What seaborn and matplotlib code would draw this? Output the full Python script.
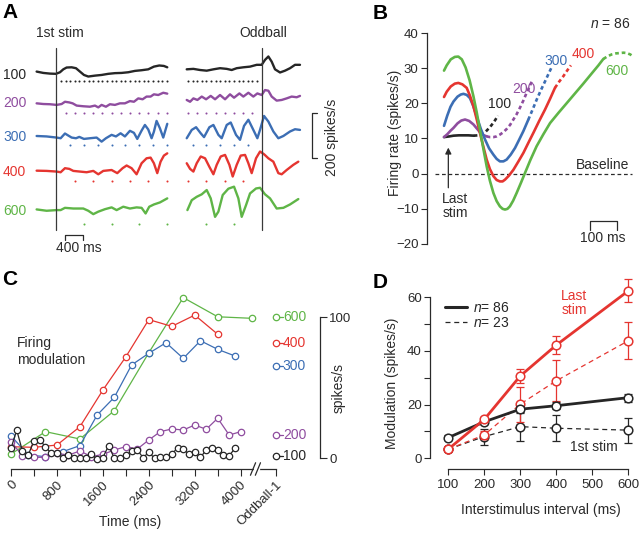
import numpy as np
import matplotlib
matplotlib.use("Agg")
import matplotlib.pyplot as plt
from matplotlib.lines import Line2D
import seaborn as sns

W, H = 640, 541
sns.set_style("ticks")
plt.rcParams['font.family'] = ['Liberation Sans', 'DejaVu Sans']
plt.rcParams['mathtext.fontset'] = 'custom'
plt.rcParams['mathtext.it'] = 'Liberation Sans:italic'
plt.rcParams['mathtext.rm'] = 'Liberation Sans'

DARK = '#2a2a2a'
COL = {100: '#262626', 200: '#8f4d9f', 300: '#3c6eb4', 400: '#e53530', 600: '#5fb547'}

# ---------------- Panel A data (ms, spikes/s relative to baseline) -------------
A_left_t = {
    100: [-427, -282, -137, -7, 80, 152, 224, 333, 427, 513, 600, 694, 839, 983, 1128, 1272, 1417, 1562, 1706, 1851, 1995, 2118, 2234, 2335, 2408],
    200: [-427, -282, -137, 7, 116, 188, 282, 354, 441, 586, 730, 839, 911, 983, 1077, 1164, 1272, 1381, 1489, 1598, 1685, 1779, 1873, 1959, 2046, 2118, 2212, 2321, 2408],
    300: [-427, -210, 7, 94, 188, 260, 333, 427, 499, 600, 730, 875, 983, 1077, 1200, 1294, 1395, 1489, 1598, 1685, 1757, 1851, 1923, 1995, 2068, 2118, 2176, 2249, 2321, 2408],
    400: [-427, -210, 7, 94, 188, 282, 369, 513, 658, 803, 911, 1019, 1200, 1323, 1439, 1526, 1634, 1742, 1851, 1959, 2046, 2118, 2191, 2263, 2335, 2408],
    600: [-427, -210, 7, 94, 188, 369, 586, 694, 803, 911, 1056, 1200, 1309, 1453, 1598, 1742, 1851, 1938, 2017, 2118, 2249, 2408],
}
A_left_v = {
    100: [3, -3, -6, -7, 0, 13, 21, 22, 18, 3, -12, -19, -15, -12, -7, -4, -3, 0, 6, 9, 13, 25, 30, 28, 22],
    200: [3, 0, -1, -4, 0, 10, 7, 3, -7, -10, -12, -7, -15, -4, -12, -1, -4, 3, 3, 13, 10, 25, 21, 33, 33, 43, 40, 50, 46],
    300: [1, -1, -6, -9, 12, 3, -6, -9, -3, -12, -9, -6, -24, -9, 6, -1, 13, -1, 24, 15, -12, 25, 50, 30, -9, 20, 68, 35, -6, 55],
    400: [1, 0, -3, -6, 12, 9, 0, -3, -6, 0, -15, 0, 4, -10, 12, 24, 12, -15, 34, 56, 59, 34, -10, 41, 68, 78],
    600: [3, -3, 0, 0, 10, 7, 7, -3, -18, -7, 4, 12, 0, 15, 7, 12, 10, -15, 15, 25, 34, 52],
}
A_right_t = {
    100: [-1627, -1482, -1338, -1193, -1048, -904, -759, -651, -542, -398, -253, -108, 0, 72, 145, 217, 289, 398, 506, 615, 723, 831],
    200: [-1627, -1554, -1482, -1395, -1301, -1207, -1106, -1012, -904, -795, -687, -600, -484, -398, -289, -181, -94, 0, 72, 145, 217, 325, 434, 542, 651, 759, 831],
    300: [-1627, -1518, -1424, -1323, -1251, -1135, -1048, -940, -868, -759, -672, -557, -470, -383, -289, -181, -94, -36, 51, 145, 253, 361, 470, 615, 723, 831],
    400: [-1627, -1554, -1482, -1410, -1323, -1229, -1135, -1048, -976, -889, -795, -701, -629, -542, -455, -361, -289, -217, -123, -36, 51, 145, 253, 361, 434, 542, 687, 795],
    600: [-1612, -1518, -1410, -1301, -1193, -1106, -1012, -940, -846, -723, -600, -506, -434, -340, -253, -123, -36, 72, 181, 325, 470, 615, 795],
}
A_right_v = {
    100: [13, 15, 10, 7, 13, 18, 15, 10, 18, 22, 25, 33, 33, 55, 70, 47, 13, -1, 7, 18, 33, 33],
    200: [18, 10, 25, 18, 33, 21, 36, 21, 40, 21, 43, 28, 47, 33, 50, 33, 47, 40, 62, 59, 33, 15, 18, 25, 33, 30, 36],
    300: [-9, 28, 40, 13, -4, 40, 50, 6, -9, 50, 61, 6, -16, 46, 73, 28, -9, 28, 90, 65, 21, -9, 1, 21, 31, 28],
    400: [34, 9, -3, 34, 64, 56, 18, -15, 27, 64, 71, 27, -25, 27, 68, 71, 34, -10, 56, 86, 74, 56, 41, -10, -15, 4, 27, 41],
    600: [0, 44, 59, 70, 89, 52, -30, -7, 67, 95, 104, 52, -30, 22, 74, 96, 99, 70, 52, 7, 10, 25, 49],
}
A_stim_left = {
    100: [100, 200, 300, 400, 500, 600, 700, 800, 900, 1000, 1100, 1200, 1300, 1400, 1500, 1600, 1700, 1800, 1900, 2000, 2100, 2200, 2300, 2400],
    200: [200, 400, 600, 800, 1000, 1200, 1400, 1600, 1800, 2000, 2200, 2400],
    300: [300, 600, 900, 1200, 1500, 1800, 2100, 2400],
    400: [400, 800, 1200, 1600, 2000, 2400],
    600: [600, 1200, 1800, 2400],
}
A_stim_right = {
    100: [-1600, -1500, -1400, -1300, -1200, -1100, -1000, -900, -800, -700, -600, -500, -400, -300, -200, -100],
    200: [-1600, -1400, -1200, -1000, -800, -600, -400, -200],
    300: [-1500, -1200, -900, -600, -300],
    400: [-1600, -1200, -800, -400],
    600: [-1200, -600],
}

# ---------------- Panel B data -------------
B_t = {
    100: [0, 20, 35, 55, 72, 90, 110, 125, 140, 155, 170, 185, 200],
    200: [0, 12, 24, 35, 50, 64, 78, 93, 109, 121, 133, 145, 158, 170, 183, 195, 207, 220, 232, 245, 257, 269, 281, 294, 306, 316, 325],
    300: [0, 12, 24, 35, 50, 62, 72, 84, 96, 108, 121, 136, 152, 167, 183, 195, 207, 220, 232, 247, 263, 278, 294, 312, 328, 343, 358, 374, 386, 397],
    400: [0, 10, 25, 40, 53, 68, 84, 96, 109, 121, 133, 146, 158, 170, 183, 195, 207, 217, 226, 240, 257, 275, 294, 312, 331, 352, 374, 393, 411, 426, 442, 456, 470],
    600: [0, 10, 25, 40, 53, 66, 80, 95, 109, 121, 133, 146, 158, 170, 183, 195, 207, 217, 226, 235, 244, 256, 269, 285, 300, 320, 343, 368, 393, 424, 454, 485, 516, 545, 572, 590, 606, 621, 637, 652, 665, 677, 690, 701],
}
B_v = {
    100: [10.4, 10.6, 10.8, 10.9, 10.9, 10.9, 10.8, 10.9, 11.3, 12.0, 13.2, 14.7, 16.5],
    200: [10.4, 11.2, 12.2, 13.0, 14.3, 15.1, 15.4, 15.0, 14.0, 12.9, 11.8, 11.0, 10.6, 10.4, 10.4, 10.6, 11.1, 11.8, 12.7, 13.9, 15.4, 16.9, 18.7, 20.8, 23.0, 24.6, 26.2],
    300: [13.6, 16.5, 19.0, 20.5, 21.9, 22.5, 22.7, 22.4, 21.5, 19.3, 16.3, 12.8, 9.7, 7.2, 5.4, 4.2, 3.5, 3.5, 4.0, 5.4, 7.3, 9.6, 12.1, 15.3, 18.2, 21.0, 23.6, 26.2, 28.2, 30.0],
    400: [21.8, 23.3, 24.8, 25.6, 25.8, 25.4, 24.4, 22.2, 19.2, 15.5, 11.6, 7.6, 4.0, 1.3, -0.7, -1.8, -2.2, -2.2, -1.7, -0.6, 1.1, 3.4, 5.9, 8.7, 11.6, 14.9, 18.2, 21.3, 24.4, 26.1, 27.7, 29.3, 30.8],
    600: [29.3, 30.8, 32.5, 33.2, 33.3, 32.5, 30.2, 26.5, 22.0, 17.5, 12.5, 7.0, 2.1, -2.0, -5.5, -7.8, -9.3, -10.0, -10.2, -10.0, -9.3, -7.7, -5.5, -2.6, 0.2, 3.9, 7.8, 11.2, 14.4, 17.3, 20.0, 22.8, 25.6, 28.3, 30.8, 32.6, 33.4, 33.9, 34.2, 34.3, 34.4, 34.3, 33.9, 33.3],
}
B_solid_end = {100: 110, 200: 158, 300: 312, 400: 411, 600: 590}

# ---------------- Panel C data -------------
C_t = {
    100: [0, 100, 200, 300, 400, 500, 600, 700, 800, 900, 1000, 1100, 1200, 1300, 1400, 1500, 1600, 1700, 1800, 1900,
          2000, 2100, 2200, 2300, 2400, 2500, 2600, 2700, 2800, 2900, 3000, 3100, 3200, 3300, 3400, 3500, 3600, 3700, 3800, 3900],
    200: [0, 200, 400, 600, 800, 1000, 1200, 1400, 1600, 1800, 2000, 2200, 2400, 2600, 2800, 3000, 3200, 3400, 3600, 3800, 4000],
    300: [0, 300, 600, 900, 1200, 1500, 1800, 2100, 2400, 2700, 3000, 3300, 3600, 3900],
    400: [0, 400, 800, 1200, 1600, 2000, 2400, 2800, 3200, 3600],
    600: [0, 600, 1200, 1800, 2400, 3000, 3600, 4200],
}
C_v = {
    100: [7, 20, 5, 2.3, 12.5, 13, 8.2, 3.5, 4, 0, 2.3, 0, 0, 0, 2.8, -0.5, 0.5, 9, 0, 0,
          2, 5.2, 5.9, 0.5, 4.2, 0, 1.2, 0.7, 2.8, 7.5, 6.3, 3, 4.7, 0.7, 5.9, 7, 5.9, 2.3, 1.9, 7],
    200: [11.8, 1.9, 0.7, 0.7, 3.5, 2.3, 5.2, 1.2, 2.8, 5.9, 8.3, 6.6, 13, 18.9, 20.8, 20.1, 23.6, 20.6, 28.4, 16.5, 18.9],
    300: [16, 2.3, 1.2, 4.7, 9, 30.7, 43.3, 66.2, 74.5, 82, 70.9, 83.4, 77.3, 72.6],
    400: [8.2, 7.8, 9.4, 22.4, 48.4, 72, 98.4, 93.6, 101.6, 88],
    600: [3, 18.9, 13.7, 33.8, 74.9, 114, 100.4, 99.3],
}
C_oddball1 = {600: 100.4, 400: 81.6, 300: 65.5, 200: 16.5, 100: 1.9}
C_xticks = [0, 400, 800, 1200, 1600, 2000, 2400, 2800, 3200, 3600, 4000]
C_xlabels = ['0', '', '800', '', '1600', '', '2400', '', '3200', '', '4000']
C_ODD1 = 4615

# ---------------- Panel D data -------------
D_isi = [100, 200, 300, 400, 600]
D_first86 = [7.7, 13.6, 18.3, 19.6, 22.6]
D_first86_err = [0.8, 1.0, 1.3, 1.2, 1.5]
D_last86 = [3.4, 14.5, 30.7, 42.2, 62.4]
D_last86_err = [0.7, 1.0, 2.6, 3.4, 4.3]
D_first23 = [3.4, 8.1, 11.8, 11.2, 10.5]
D_first23_err = [0.8, 3.0, 5.5, 4.8, 4.7]
D_last23 = [3.4, 8.7, 20.2, 28.9, 43.8]
D_last23_err = [0.8, 1.5, 6.5, 7.7, 6.9]

# =====================================================================
fig = plt.figure(figsize=(6.4, 5.41), dpi=100)


def box(x0, y0, x1, y1):
    return [x0 / W, 1 - y1 / H, (x1 - x0) / W, (y1 - y0) / H]


def T(px, py, s, **kw):
    kw.setdefault('va', 'center')
    kw.setdefault('ha', 'left')
    kw.setdefault('fontsize', 10)
    kw.setdefault('color', DARK)
    fig.text(px / W, 1 - py / H, s, **kw)


# ---------------- Panel A -------------
MSPX, RPX = 21.7, 4.44
axA = fig.add_axes(box(0, 0, 345, 270))
axA.set_xlim(-56.3 * MSPX, (345 - 56.3) * MSPX)
axA.set_ylim(0, 270 * RPX)
axA.axis('off')
ODD = 4457
row_base = {100: 878, 200: 737, 300: 594, 400: 440, 600: 266}
dot_y = {100: 839, 200: 696, 300: 555, 400: 395, 600: 204}
label_y = {100: 75, 200: 103, 300: 137, 400: 172, 600: 211}
for isi in [100, 200, 300, 400, 600]:
    c = COL[isi]
    sns.lineplot(x=A_left_t[isi], y=np.array(A_left_v[isi]) + row_base[isi], ax=axA,
                 color=c, lw=1.7, sort=False, estimator=None)
    sns.lineplot(x=np.array(A_right_t[isi]) + ODD, y=np.array(A_right_v[isi]) + row_base[isi], ax=axA,
                 color=c, lw=1.7, sort=False, estimator=None)
    dl = A_stim_left[isi]
    dr = np.array(A_stim_right[isi]) + ODD
    axA.scatter(dl, [dot_y[isi]] * len(dl), s=2.2, color=c, lw=0)
    axA.scatter(dr, [dot_y[isi]] * len(dr), s=2.2, color=c, lw=0)
    T(3, label_y[isi], str(isi), color=c)
axA.plot([0, 0], [178, 986], color='#3a3a3a', lw=0.9)
axA.plot([ODD, ODD], [178, 986], color='#3a3a3a', lw=0.9)
axA.plot([189, 189, 589, 589], [133, 155, 155, 133], color=DARK, lw=0.9)
axA.plot([5647, 5549, 5549, 5647], [697, 697, 497, 497], color=DARK, lw=0.9)
T(60, 33, '1st stim', ha='center')
T(263, 33, 'Oddball', ha='center')
T(79, 248, '400 ms', ha='center')
T(332, 137, '200 spikes/s', ha='center', rotation=90)

# ---------------- Panel B -------------
axB = fig.add_axes(box(427, 33, 640, 244))
axB.set_xlim(-63, 726)
axB.set_ylim(-20, 40)
sns.despine(ax=axB, bottom=True)
axB.set_xticks([])
axB.set_yticks([-20, -10, 0, 10, 20, 30, 40])
axB.tick_params(axis='y', direction='out', length=4, width=0.8, labelsize=9.5, pad=2, colors=DARK)
axB.spines['left'].set_linewidth(0.9)
axB.spines['left'].set_color(DARK)
axB.patch.set_alpha(0)
axB.hlines(0, -33, 696, colors=DARK, linestyles=(0, (3, 2.2)), lw=0.9)
for isi in [100, 200, 300, 400, 600]:
    t = np.array(B_t[isi]); v = np.array(B_v[isi])
    se = B_solid_end[isi]
    m1 = t <= se; m2 = t >= se
    sns.lineplot(x=t[m1], y=v[m1], ax=axB, color=COL[isi], lw=1.9, sort=False, estimator=None)
    sns.lineplot(x=t[m2], y=v[m2], ax=axB, color=COL[isi], lw=1.9, sort=False, estimator=None,
                 linestyle=(0, (1.4, 1.1)))
axB.plot([541, 541, 641, 641], [-15.9, -13.6, -13.6, -15.9], color=DARK, lw=0.9, clip_on=False)
axB.annotate('', xy=(16, 8.2), xytext=(16, -4.8),
             arrowprops=dict(arrowstyle='-|>', color=DARK, lw=0.9, mutation_scale=9))
T(603, 238, '100 ms', ha='center')
T(603, 165, 'Baseline', ha='center')
T(455, 206, 'Last\nstim', ha='center', linespacing=1.0)
T(610, 24, '$n$ = 86', ha='center')
T(500, 104, '100', ha='center', color=COL[100])
T(524, 89, '200', ha='center', color=COL[200])
T(556, 61, '300', ha='center', color=COL[300])
T(583, 54, '400', ha='center', color=COL[400])
T(617, 71, '600', ha='center', color=COL[600])
T(395, 133, 'Firing rate (spikes/s)', ha='center', rotation=90)

# ---------------- Panel C -------------
axC = fig.add_axes(box(5, 290, 320, 469))
axC.set_xlim(-104.5, 5381.4)
axC.set_ylim(-7.59, 119.4)
axC.patch.set_alpha(0)
for s in ['top', 'left']:
    axC.spines[s].set_visible(False)
axC.spines['bottom'].set_bounds(0, C_ODD1)
axC.spines['right'].set_bounds(0, 100)
for s in ['bottom', 'right']:
    axC.spines[s].set_linewidth(0.9)
    axC.spines[s].set_color(DARK)
axC.yaxis.tick_right()
axC.set_yticks([0, 100])
axC.set_xticks(C_xticks + [C_ODD1])
axC.set_xticklabels(C_xlabels + ['Oddball-1'], rotation=45, ha='right', rotation_mode='anchor')
axC.tick_params(direction='out', length=5, width=0.8, labelsize=9.5, colors=DARK)
axC.tick_params(axis='x', pad=2)
axC.tick_params(axis='y', pad=1.5)
for isi in [600, 400, 300, 200, 100]:
    c = COL[isi]
    sns.lineplot(x=C_t[isi], y=C_v[isi], ax=axC, color=c, lw=0.9, sort=False, estimator=None,
                 marker='o', markersize=4.6, markerfacecolor='white', markeredgecolor=c,
                 markeredgewidth=0.9, clip_on=False)
    ov = C_oddball1[isi]
    axC.plot([C_ODD1, C_ODD1 + 115], [ov, ov], color=c, lw=0.9, marker='o', markevery=[0],
             markersize=4.6, markerfacecolor='white', markeredgecolor=c, markeredgewidth=0.9,
             clip_on=False)
    axC.text(C_ODD1 + 120, ov, str(isi), color=c, fontsize=10, va='center', ha='left')
# axis break
xt = axC.get_xaxis_transform()
axC.plot([4245, 4305], [0, 0], transform=xt, color='white', lw=2.5, clip_on=False, zorder=5)
for xb in [4215, 4300]:
    axC.plot([xb - 45, xb + 45], [-0.035, 0.035], transform=xt, color=DARK, lw=0.9, clip_on=False, zorder=6)
T(17, 336, 'Firing\nmodulation', va='top', linespacing=1.25)
T(130, 522, 'Time (ms)', ha='center')
T(339, 388, 'spikes/s', ha='center', rotation=90)

# ---------------- Panel D -------------
axD = fig.add_axes(box(430, 278, 640, 469))
axD.set_xlim(49.2, 632.5)
axD.set_ylim(-3.99, 67.2)
axD.patch.set_alpha(0)
sns.despine(ax=axD)
axD.spines['left'].set_bounds(0, 60)
axD.spines['bottom'].set_bounds(100, 600)
for s in ['bottom', 'left']:
    axD.spines[s].set_linewidth(0.9)
    axD.spines[s].set_color(DARK)
axD.set_xticks([100, 200, 300, 400, 500, 600])
axD.set_yticks([0, 20, 40, 60])
axD.set_yticks([10, 30, 50], minor=True)
axD.tick_params(which='both', direction='out', length=4, width=0.8, labelsize=9.5, colors=DARK)
axD.tick_params(axis='x', pad=3)
axD.tick_params(axis='y', pad=2)

series = [
    (D_first23, D_first23_err, COL[100], (0, (4, 3)), 0.9),
    (D_last23, D_last23_err, COL[400], (0, (4, 3)), 0.9),
    (D_first86, D_first86_err, COL[100], '-', 2.0),
    (D_last86, D_last86_err, COL[400], '-', 2.0),
]
for vals, err, c, ls, lw in series:
    axD.errorbar(D_isi, vals, yerr=err, fmt='none', ecolor=c, elinewidth=0.9, capsize=2.6,
                 capthick=0.9, clip_on=False)
    sns.lineplot(x=D_isi, y=vals, ax=axD, color=c, lw=lw, linestyle=ls, sort=False, estimator=None,
                 marker='o', markersize=6.2, markerfacecolor='white', markeredgecolor=c,
                 markeredgewidth=1.1, clip_on=False)
handles = [Line2D([], [], color=COL[100], lw=2.2), Line2D([], [], color=COL[100], lw=0.9, ls=(0, (4, 3)))]
axD.legend(handles, ['$n$= 86', '$n$= 23'], loc='upper left', bbox_to_anchor=(445 / W, 1 - 301 / H),
           bbox_transform=fig.transFigure, frameon=False, fontsize=10, handlelength=1.55,
           handletextpad=0.45, labelspacing=0.05, borderpad=0, borderaxespad=0)
T(574, 303, 'Last\nstim', ha='center', color=COL[400], linespacing=1.0)
T(594, 447, '1st stim', ha='center')
T(392, 383, 'Modulation (spikes/s)', ha='center', rotation=90)
T(541, 510, 'Interstimulus interval (ms)', ha='center')

# panel letters
for px, py, s in [(2, 12.5, 'A'), (373, 13.5, 'B'), (2, 279.5, 'C'), (373, 282.5, 'D')]:
    T(px, py, s, fontsize=15, fontweight='bold', color='black')

fig.savefig('out.png', dpi=100)
